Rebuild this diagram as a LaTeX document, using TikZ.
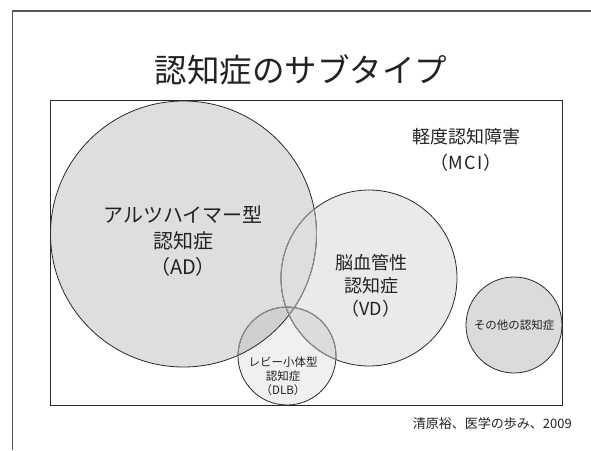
\documentclass[tikz,border=0pt]{standalone}
\usepackage{fontspec}
\setmainfont{Noto Sans CJK JP}
\definecolor{adfill}{HTML}{DEDEE0}
\definecolor{vdfill}{HTML}{EAEAEC}
\definecolor{otfill}{HTML}{DBDBDD}
\definecolor{edge}{HTML}{2A2A2A}
\definecolor{edgein}{HTML}{8C8C8C}
\definecolor{txt}{HTML}{222222}
\definecolor{framec}{HTML}{555555}
\tikzset{
  ring/.style={draw=edge, line width=0.8pt},
  ringin/.style={draw=edgein, line width=0.9pt},
  lbl/.style={text=txt, align=center, inner sep=0pt},
}
\begin{document}
\begin{tikzpicture}[x=1pt,y=-1pt]
\useasboundingbox (0,0) rectangle (591,450);
% outer frame (top and left only visible)
\coordinate (otl) at (12.7,11);
\coordinate (otr) at (591,11);
\coordinate (obl) at (12.7,450);
\draw[framec, line width=1.3pt] (otr) -- (otl) -- (obl);
% circle centres
\coordinate (ad) at (183.5,234);
\coordinate (vd) at (369,278);
\coordinate (dlb) at (287,356);
\coordinate (ot) at (514,325);
% fills
\fill[vdfill] (vd) circle[radius=88pt];
\fill[adfill] (ad) circle[radius=133pt];
\fill[black, fill opacity=0.06] (dlb) circle[radius=49pt];
\fill[otfill] (ot) circle[radius=48pt];
% outlines
\draw[ring] (ad) circle[radius=133pt];
\draw[ring] (vd) circle[radius=88pt];
\draw[ring] (dlb) circle[radius=49pt];
\draw[ring] (ot) circle[radius=48pt];
\begin{scope}
  \clip (ad) circle[radius=133pt];
  \draw[ringin] (vd) circle[radius=88pt];
  \draw[ringin] (dlb) circle[radius=49pt];
\end{scope}
\begin{scope}
  \clip (vd) circle[radius=88pt];
  \draw[ringin] (ad) circle[radius=133pt];
  \draw[ringin] (dlb) circle[radius=49pt];
\end{scope}
\begin{scope}
  \clip (dlb) circle[radius=49pt];
  \draw[ringin] (vd) circle[radius=88pt];
\end{scope}
% inner frame
\coordinate (itl) at (50,100);
\coordinate (ibr) at (562,405);
\draw[edge, line width=1pt] (itl) rectangle (ibr);
% texts
\node[lbl, font=\fontsize{32.5}{36}\selectfont] (title) at (301,70) {認知症のサブタイプ};
\node[lbl, font=\fontsize{18}{26}\selectfont] (mci) at (466,150) {軽度認知障害\\（M\kern1.5pt C\kern1.5pt I）};
\node[lbl, font=\fontsize{20}{26}\selectfont] (adt) at (183,241) {アルツハイマー型\\認知症\\（AD）};
\node[lbl, font=\fontsize{18}{23}\selectfont] (vdt) at (371,286) {脳血管性\\認知症\\（VD）};
\node[lbl, font=\fontsize{11.5}{14}\selectfont] (dlbt) at (283,376) {レビー小体型\\認知症\\（DLB）};
\node[lbl, font=\fontsize{11.5}{14}\selectfont] (ott) at (514,325) {その他の認知症};
\node[lbl, font=\fontsize{13}{14}\selectfont, anchor=east] (cite) at (572,424) {清原裕、医学の歩み、2009};
\end{tikzpicture}
\end{document}
